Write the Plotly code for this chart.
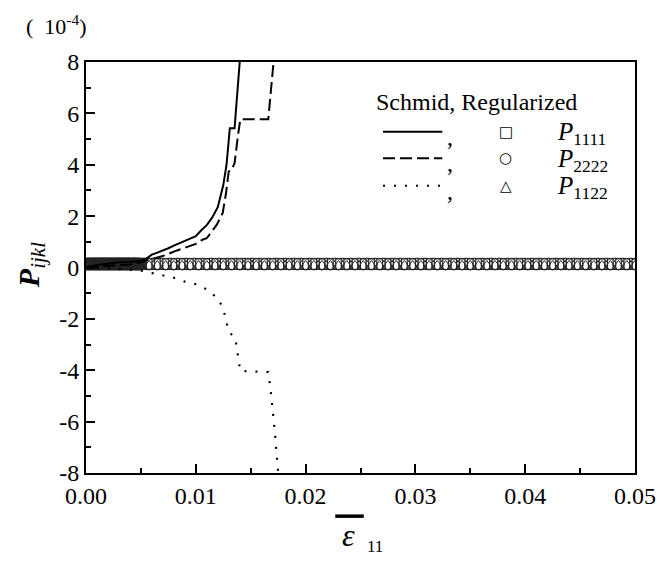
import numpy as np
import plotly.graph_objects as go

# Schmid model curves (values in units of 1e-4)
schmid_p1111_x = [0.0, 0.001, 0.002, 0.003, 0.004, 0.005, 0.0055, 0.006, 0.0065, 0.007, 0.0075,
                  0.008, 0.0085, 0.009, 0.0095, 0.010, 0.0105, 0.011, 0.0115, 0.012, 0.0125,
                  0.0128, 0.0131, 0.01353, 0.0140, 0.0142]
schmid_p1111_y = [0.0, 0.1, 0.15, 0.2, 0.22, 0.25, 0.35, 0.5, 0.58, 0.65, 0.75,
                  0.85, 0.95, 1.02, 1.15, 1.22, 1.45, 1.65, 1.95, 2.35, 3.2,
                  4.0, 5.42, 5.42, 8.0, 9.0]

schmid_p2222_x = [0.0, 0.002, 0.004, 0.005, 0.0058, 0.0067, 0.0073, 0.0080, 0.0088, 0.0095,
                  0.0100, 0.0106, 0.0110, 0.0119, 0.01245, 0.01275, 0.0130, 0.01324, 0.01353,
                  0.01383, 0.01405, 0.0166, 0.01705, 0.0173]
schmid_p2222_y = [0.0, 0.05, 0.12, 0.2, 0.3, 0.43, 0.49, 0.62, 0.74, 0.85,
                  0.92, 1.08, 1.14, 1.66, 2.12, 2.89, 3.74, 3.78, 4.06,
                  5.10, 5.77, 5.77, 7.69, 9.0]

schmid_p1122_x = [0.0, 0.003, 0.005, 0.006, 0.007, 0.008, 0.009, 0.010, 0.011, 0.012, 0.0125,
                  0.0128, 0.013, 0.0136, 0.0139, 0.01405, 0.0166, 0.0168, 0.0172, 0.01745, 0.0176]
schmid_p1122_y = [0.0, -0.05, -0.12, -0.22, -0.3, -0.4, -0.55, -0.65, -0.85, -1.2, -1.6,
                  -2.1, -2.5, -2.75, -3.6, -4.03, -4.07, -4.7, -6.4, -7.8, -8.5]

# Regularized model: sampled strain points and (nearly constant) moduli
reg_x = np.concatenate([np.arange(0.0, 0.005, 0.0001), np.arange(0.005, 0.05001, 0.00075)])
reg_p1111 = [0.14] * len(reg_x)
reg_p2222 = [0.12] * len(reg_x)
reg_p1122 = [0.04] * len(reg_x)

x_ticks = [0.0, 0.01, 0.02, 0.03, 0.04, 0.05]
y_ticks = [8, 6, 4, 2, 0, -2, -4, -6, -8]
y_ticktext = [str(v) if v >= 0 else "-" + str(-v) for v in y_ticks]
x_ticktext = ["%.2f" % v for v in x_ticks]

SERIF = "Liberation Serif"
INK = "black"

fig = go.Figure()

marker_line = dict(color="#222", width=1)
fig.add_trace(go.Scatter(x=reg_x, y=reg_p1111, mode="markers",
                         marker=dict(symbol="square-open", size=11, color="#222", line=marker_line)))
fig.add_trace(go.Scatter(x=reg_x, y=reg_p2222, mode="markers",
                         marker=dict(symbol="circle-open", size=11, color="#222", line=marker_line)))
fig.add_trace(go.Scatter(x=reg_x, y=reg_p1122, mode="markers",
                         marker=dict(symbol="triangle-up-open", size=12, color="#222", line=marker_line)))

fig.add_trace(go.Scatter(x=schmid_p1111_x, y=schmid_p1111_y, mode="lines",
                         line=dict(color=INK, width=2)))
fig.add_trace(go.Scatter(x=schmid_p2222_x, y=schmid_p2222_y, mode="lines",
                         line=dict(color=INK, width=2, dash="12px,5px")))
fig.add_trace(go.Scatter(x=schmid_p1122_x, y=schmid_p1122_y, mode="lines",
                         line=dict(color=INK, width=2.2, dash="2px,9px")))

fig.update_xaxes(range=[0, 0.05], tickvals=x_ticks, ticktext=x_ticktext,
                 tickfont=dict(family=SERIF, size=24, color=INK),
                 showline=True, linecolor=INK, linewidth=2, mirror=True,
                 ticks="inside", ticklen=9, tickwidth=2, tickcolor=INK,
                 showgrid=False, zeroline=False,
                 minor=dict(ticks="inside", ticklen=5, tickwidth=2, tickcolor=INK, dtick=0.005,
                            showgrid=False))
fig.update_yaxes(range=[-8, 8], tickvals=y_ticks, ticktext=y_ticktext,
                 tickfont=dict(family=SERIF, size=24, color=INK),
                 showline=True, linecolor=INK, linewidth=2, mirror=True,
                 ticks="inside", ticklen=9, tickwidth=2, tickcolor=INK,
                 showgrid=False, zeroline=False,
                 minor=dict(ticks="inside", ticklen=5, tickwidth=2, tickcolor=INK, dtick=1,
                            showgrid=False))


def note(x, y, text, size, xanchor="center", angle=0, family=SERIF):
    return dict(x=x, y=y, xref="paper", yref="paper", text=text, showarrow=False,
                xanchor=xanchor, yanchor="middle", textangle=angle,
                font=dict(family=family, size=size, color=INK))


annotations = [
    note(-0.055, 1.09, "(  10<sup>-4</sup>)", 22),
    note(-0.10, 0.506, "<b><i>P</i></b><sub><i>ijkl</i></sub>", 30, angle=-90),
    note(0.478, -0.150, "<i>ε</i>", 32),
    note(0.527, -0.180, "11", 17),
    note(0.712, 0.903, "Schmid, Regularized", 24),
]

rows_y = [0.830, 0.766, 0.699]
row_labels = ["<i>P</i><sub>1111</sub>", "<i>P</i><sub>2222</sub>", "<i>P</i><sub>1122</sub>"]
row_symbols = ["□", "○", "△"]
row_dash = ["solid", "12px,5px", "2px,9px"]

shapes = []
for yy, lab, sym, dash in zip(rows_y, row_labels, row_symbols, row_dash):
    shapes.append(dict(type="line", xref="paper", yref="paper", x0=0.541, x1=0.649, y0=yy, y1=yy,
                       line=dict(color=INK, width=2, dash=dash)))
    annotations.append(note(0.663, yy - 0.012, ",", 24))
    annotations.append(note(0.765, yy, sym, 15, family="DejaVu Sans"))
    annotations.append(note(0.855, yy - 0.005, lab, 25, xanchor="left"))

# overbar of the strain symbol
shapes.append(dict(type="line", xref="paper", yref="paper", x0=0.454, x1=0.506, y0=-0.105, y1=-0.105,
                   line=dict(color=INK, width=3.5)))

fig.update_layout(width=668, height=561,
                  margin=dict(l=86, r=27, t=62, b=88),
                  paper_bgcolor="white", plot_bgcolor="white",
                  showlegend=False,
                  font=dict(family=SERIF, color=INK),
                  annotations=annotations, shapes=shapes)

fig.write_html("out.html")
